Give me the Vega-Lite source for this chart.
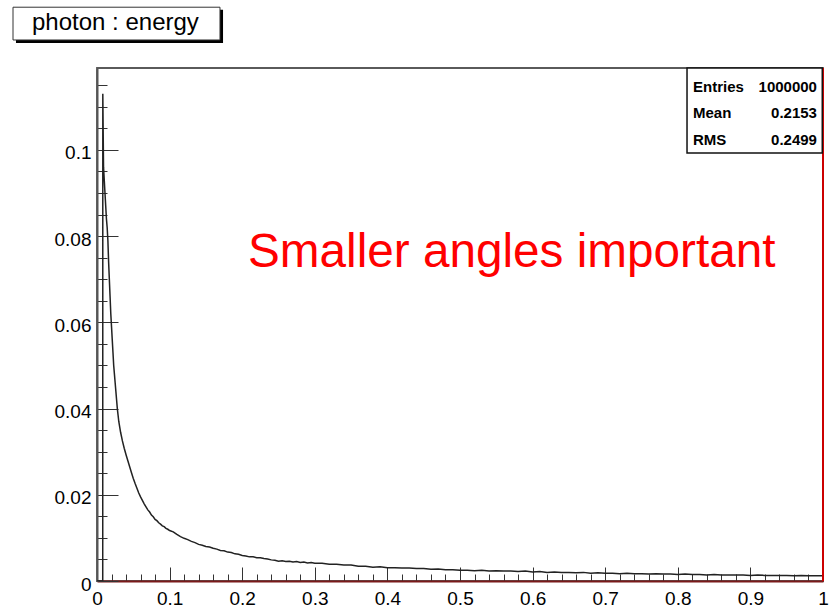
{
  "$schema": "https://vega.github.io/schema/vega-lite/v6.json",
  "width": 726,
  "height": 513,
  "autosize": {"type": "none"},
  "padding": {"left": 97, "top": 68, "right": 8, "bottom": 27},
  "background": "white",
  "config": {
    "view": {"stroke": "#5a5a5a", "strokeWidth": 1.8},
    "font": "Liberation Sans"
  },
  "resolve": {"axis": {"x": "independent", "y": "independent"}},
  "layer": [
    {
      "data": {"values": [
        {"e": 0.0, "n": 0.0},
        {"e": 0.0079, "n": 0.0},
        {"e": 0.008, "n": 0.113},
        {"e": 0.009, "n": 0.096},
        {"e": 0.010, "n": 0.093},
        {"e": 0.011, "n": 0.090},
        {"e": 0.012, "n": 0.087},
        {"e": 0.013, "n": 0.084},
        {"e": 0.014, "n": 0.082},
        {"e": 0.015, "n": 0.079},
        {"e": 0.016, "n": 0.074},
        {"e": 0.017, "n": 0.070},
        {"e": 0.018, "n": 0.066},
        {"e": 0.019, "n": 0.062},
        {"e": 0.020, "n": 0.059},
        {"e": 0.021, "n": 0.056},
        {"e": 0.022, "n": 0.053},
        {"e": 0.023, "n": 0.050},
        {"e": 0.024, "n": 0.048},
        {"e": 0.025, "n": 0.046},
        {"e": 0.026, "n": 0.044},
        {"e": 0.027, "n": 0.042},
        {"e": 0.028, "n": 0.040},
        {"e": 0.029, "n": 0.0385},
        {"e": 0.030, "n": 0.0370},
        {"e": 0.0325, "n": 0.0345},
        {"e": 0.035, "n": 0.0325},
        {"e": 0.0375, "n": 0.0308},
        {"e": 0.040, "n": 0.0293},
        {"e": 0.0425, "n": 0.0279},
        {"e": 0.045, "n": 0.0265},
        {"e": 0.0475, "n": 0.0251},
        {"e": 0.050, "n": 0.0238},
        {"e": 0.0525, "n": 0.0226},
        {"e": 0.055, "n": 0.0215},
        {"e": 0.0575, "n": 0.0204},
        {"e": 0.060, "n": 0.0195},
        {"e": 0.0625, "n": 0.0187},
        {"e": 0.065, "n": 0.0179},
        {"e": 0.0675, "n": 0.0172},
        {"e": 0.070, "n": 0.0165},
        {"e": 0.0725, "n": 0.0160},
        {"e": 0.075, "n": 0.0153},
        {"e": 0.0775, "n": 0.0149},
        {"e": 0.080, "n": 0.0143},
        {"e": 0.0825, "n": 0.0140},
        {"e": 0.085, "n": 0.0135},
        {"e": 0.0875, "n": 0.0132},
        {"e": 0.090, "n": 0.0128},
        {"e": 0.0925, "n": 0.0126},
        {"e": 0.095, "n": 0.0122},
        {"e": 0.0975, "n": 0.0120},
        {"e": 0.100, "n": 0.0117},
        {"e": 0.105, "n": 0.0114},
        {"e": 0.110, "n": 0.0108},
        {"e": 0.115, "n": 0.0103},
        {"e": 0.120, "n": 0.0099},
        {"e": 0.125, "n": 0.0096},
        {"e": 0.130, "n": 0.0092},
        {"e": 0.135, "n": 0.0089},
        {"e": 0.140, "n": 0.0085},
        {"e": 0.145, "n": 0.0083},
        {"e": 0.150, "n": 0.0080},
        {"e": 0.155, "n": 0.0079},
        {"e": 0.160, "n": 0.0076},
        {"e": 0.165, "n": 0.0074},
        {"e": 0.170, "n": 0.0071},
        {"e": 0.175, "n": 0.0070},
        {"e": 0.180, "n": 0.0067},
        {"e": 0.185, "n": 0.0066},
        {"e": 0.190, "n": 0.0063},
        {"e": 0.195, "n": 0.0062},
        {"e": 0.200, "n": 0.0059},
        {"e": 0.205, "n": 0.0058},
        {"e": 0.210, "n": 0.0056},
        {"e": 0.215, "n": 0.0056},
        {"e": 0.220, "n": 0.0054},
        {"e": 0.225, "n": 0.0054},
        {"e": 0.230, "n": 0.0052},
        {"e": 0.235, "n": 0.0051},
        {"e": 0.240, "n": 0.0049},
        {"e": 0.245, "n": 0.0048},
        {"e": 0.250, "n": 0.0046},
        {"e": 0.255, "n": 0.0047},
        {"e": 0.260, "n": 0.0045},
        {"e": 0.265, "n": 0.0046},
        {"e": 0.270, "n": 0.0044},
        {"e": 0.275, "n": 0.0045},
        {"e": 0.280, "n": 0.0043},
        {"e": 0.285, "n": 0.0044},
        {"e": 0.290, "n": 0.0042},
        {"e": 0.295, "n": 0.0043},
        {"e": 0.300, "n": 0.0041},
        {"e": 0.31, "n": 0.0041},
        {"e": 0.32, "n": 0.0039},
        {"e": 0.33, "n": 0.0039},
        {"e": 0.34, "n": 0.0037},
        {"e": 0.35, "n": 0.0037},
        {"e": 0.36, "n": 0.0034},
        {"e": 0.37, "n": 0.0034},
        {"e": 0.38, "n": 0.0032},
        {"e": 0.39, "n": 0.0033},
        {"e": 0.40, "n": 0.0031},
        {"e": 0.41, "n": 0.0031},
        {"e": 0.42, "n": 0.0030},
        {"e": 0.43, "n": 0.0030},
        {"e": 0.44, "n": 0.0029},
        {"e": 0.45, "n": 0.0029},
        {"e": 0.46, "n": 0.0027},
        {"e": 0.47, "n": 0.0028},
        {"e": 0.48, "n": 0.0026},
        {"e": 0.49, "n": 0.0026},
        {"e": 0.50, "n": 0.0025},
        {"e": 0.51, "n": 0.0025},
        {"e": 0.52, "n": 0.0024},
        {"e": 0.53, "n": 0.0025},
        {"e": 0.54, "n": 0.0023},
        {"e": 0.55, "n": 0.0024},
        {"e": 0.56, "n": 0.0023},
        {"e": 0.57, "n": 0.0023},
        {"e": 0.58, "n": 0.0022},
        {"e": 0.59, "n": 0.0023},
        {"e": 0.60, "n": 0.0021},
        {"e": 0.61, "n": 0.0022},
        {"e": 0.62, "n": 0.0020},
        {"e": 0.63, "n": 0.0021},
        {"e": 0.64, "n": 0.0020},
        {"e": 0.65, "n": 0.0020},
        {"e": 0.66, "n": 0.0019},
        {"e": 0.67, "n": 0.0020},
        {"e": 0.68, "n": 0.0018},
        {"e": 0.69, "n": 0.0019},
        {"e": 0.70, "n": 0.0018},
        {"e": 0.71, "n": 0.0018},
        {"e": 0.72, "n": 0.0017},
        {"e": 0.73, "n": 0.0018},
        {"e": 0.74, "n": 0.0017},
        {"e": 0.75, "n": 0.0017},
        {"e": 0.76, "n": 0.0016},
        {"e": 0.77, "n": 0.0017},
        {"e": 0.78, "n": 0.0016},
        {"e": 0.79, "n": 0.0016},
        {"e": 0.80, "n": 0.0015},
        {"e": 0.81, "n": 0.0016},
        {"e": 0.82, "n": 0.0015},
        {"e": 0.83, "n": 0.0015},
        {"e": 0.84, "n": 0.0014},
        {"e": 0.85, "n": 0.0015},
        {"e": 0.86, "n": 0.0014},
        {"e": 0.87, "n": 0.0014},
        {"e": 0.88, "n": 0.0014},
        {"e": 0.89, "n": 0.0014},
        {"e": 0.90, "n": 0.0013},
        {"e": 0.91, "n": 0.0014},
        {"e": 0.92, "n": 0.0013},
        {"e": 0.93, "n": 0.0013},
        {"e": 0.94, "n": 0.0013},
        {"e": 0.95, "n": 0.0013},
        {"e": 0.96, "n": 0.0012},
        {"e": 0.97, "n": 0.0013},
        {"e": 0.98, "n": 0.0012},
        {"e": 0.99, "n": 0.0012},
        {"e": 1.0, "n": 0.0012}
      ]},
      "mark": {"type": "line", "interpolate": "linear", "color": "#222222", "strokeWidth": 1.5, "clip": true},
      "encoding": {
        "x": {
          "field": "e", "type": "quantitative",
          "scale": {"domain": [0, 1], "nice": false, "zero": false},
          "axis": {
            "title": null,
            "orient": "bottom",
            "values": [0,0.02,0.04,0.06,0.08,0.1,0.12,0.14,0.16,0.18,0.2,0.22,0.24,0.26,0.28,0.3,0.32,0.34,0.36,0.38,0.4,0.42,0.44,0.46,0.48,0.5,0.52,0.54,0.56,0.58,0.6,0.62,0.64,0.66,0.68,0.7,0.72,0.74,0.76,0.78,0.8,0.82,0.84,0.86,0.88,0.9,0.92,0.94,0.96,0.98,1],
            "tickSize": {"condition": {"test": "abs(datum.value*10-round(datum.value*10))<0.001", "value": -14}, "value": -7},
            "tickColor": "#333333",
            "tickWidth": 1,
            "labelExpr": "abs(datum.value*10-round(datum.value*10))<0.001 ? format(datum.value, '~g') : ''",
            "labelPadding": 22,
            "labelFont": "Liberation Sans",
            "labelFontSize": 19,
            "labelColor": "#000000",
            "labelFlush": false,
            "labelOverlap": false,
            "labelBound": false,
            "domainColor": "#7a1a1a",
            "domainWidth": 2,
            "grid": false
          }
        },
        "y": {
          "field": "n", "type": "quantitative",
          "scale": {"domain": [0, 0.119], "nice": false, "zero": false},
          "axis": {
            "title": null,
            "orient": "left",
            "values": [0,0.005,0.01,0.015,0.02,0.025,0.03,0.035,0.04,0.045,0.05,0.055,0.06,0.065,0.07,0.075,0.08,0.085,0.09,0.095,0.1,0.105,0.11,0.115],
            "tickSize": {"condition": {"test": "abs(datum.value*50-round(datum.value*50))<0.001", "value": -21}, "value": -10},
            "tickColor": "#333333",
            "tickWidth": 1,
            "labelExpr": "abs(datum.value*50-round(datum.value*50))<0.001 ? format(datum.value, '~g') : ''",
            "labelPadding": 27,
            "labelOffset": 3,
            "labelFont": "Liberation Sans",
            "labelFontSize": 19,
            "labelColor": "#000000",
            "labelFlush": false,
            "labelOverlap": false,
            "labelBound": false,
            "domainColor": "#555555",
            "domainWidth": 2,
            "grid": false
          }
        }
      }
    },
    {
      "data": {"values": [{}]},
      "mark": {"type": "rule", "color": "#cc0000", "strokeWidth": 2},
      "encoding": {
        "x": {"datum": 1, "type": "quantitative", "axis": null},
        "y": {"datum": 0, "type": "quantitative", "axis": null},
        "y2": {"datum": 0.119}
      }
    },
    {
      "data": {"values": [{}]},
      "mark": {"type": "rect", "color": "#000000"},
      "encoding": {
        "x": {"datum": -0.1116, "type": "quantitative", "axis": null},
        "x2": {"datum": 0.1736},
        "y": {"datum": 0.1325, "type": "quantitative", "axis": null},
        "y2": {"datum": 0.1248}
      }
    },
    {
      "data": {"values": [{}]},
      "mark": {"type": "rect", "fill": "#ffffff", "stroke": "#333333", "strokeWidth": 1},
      "encoding": {
        "x": {"datum": -0.1157, "type": "quantitative", "axis": null},
        "x2": {"datum": 0.1694},
        "y": {"datum": 0.1331, "type": "quantitative", "axis": null},
        "y2": {"datum": 0.1255}
      }
    },
    {
      "data": {"values": [{}]},
      "mark": {"type": "text", "text": "photon : energy", "align": "left", "baseline": "alphabetic", "font": "Liberation Sans", "fontSize": 24, "color": "#000000"},
      "encoding": {
        "x": {"datum": -0.0895, "type": "quantitative", "axis": null},
        "y": {"datum": 0.1278, "type": "quantitative", "axis": null}
      }
    },
    {
      "data": {"values": [{}]},
      "mark": {"type": "rect", "fill": "#ffffff", "stroke": "#111111", "strokeWidth": 1.5},
      "encoding": {
        "x": {"datum": 0.8127, "type": "quantitative", "axis": null},
        "x2": {"datum": 0.999},
        "y": {"datum": 0.119, "type": "quantitative", "axis": null},
        "y2": {"datum": 0.0993}
      }
    },
    {
      "data": {"values": [{"k": "Entries", "v": "1000000", "row": 0.1134}, {"k": "Mean", "v": "0.2153", "row": 0.1074}, {"k": "RMS", "v": "0.2499", "row": 0.1011}]},
      "mark": {"type": "text", "align": "left", "baseline": "alphabetic", "font": "Liberation Sans", "fontWeight": "bold", "fontSize": 15, "color": "#000000"},
      "encoding": {
        "x": {"datum": 0.8209, "type": "quantitative", "axis": null},
        "y": {"field": "row", "type": "quantitative", "axis": null},
        "text": {"field": "k"}
      }
    },
    {
      "data": {"values": [{"k": "Entries", "v": "1000000", "row": 0.1134}, {"k": "Mean", "v": "0.2153", "row": 0.1074}, {"k": "RMS", "v": "0.2499", "row": 0.1011}]},
      "mark": {"type": "text", "align": "right", "baseline": "alphabetic", "font": "Liberation Sans", "fontWeight": "bold", "fontSize": 15, "color": "#000000"},
      "encoding": {
        "x": {"datum": 0.9917, "type": "quantitative", "axis": null},
        "y": {"field": "row", "type": "quantitative", "axis": null},
        "text": {"field": "v"}
      }
    },
    {
      "data": {"values": [{}]},
      "mark": {"type": "text", "text": "Smaller angles important", "align": "left", "baseline": "alphabetic", "font": "Liberation Sans", "fontSize": 47.7, "color": "#ff0000"},
      "encoding": {
        "x": {"datum": 0.208, "type": "quantitative", "axis": null},
        "y": {"datum": 0.0728, "type": "quantitative", "axis": null}
      }
    }
  ]
}
